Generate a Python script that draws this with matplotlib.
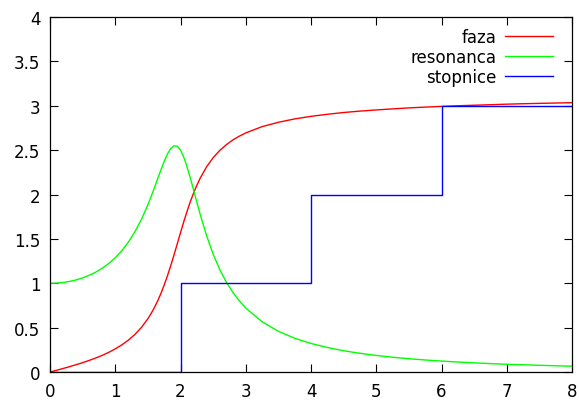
import matplotlib
matplotlib.use("Agg")
import matplotlib.pyplot as plt

# x positions
x_fine = [0.0, 0.1, 0.2, 0.3, 0.4, 0.5, 0.6, 0.7, 0.8, 0.9,
          1.0, 1.1, 1.2, 1.3, 1.4, 1.5, 1.55, 1.6, 1.65, 1.7, 1.75, 1.8, 1.85, 1.9, 1.95,
          2.0, 2.05, 2.1, 2.15, 2.2, 2.25, 2.3, 2.4, 2.5, 2.6, 2.7, 2.8, 2.9,
          3.0, 3.25, 3.5, 3.75, 4.0, 4.25, 4.5, 4.75, 5.0, 5.25,
          5.5, 5.75, 6.0, 6.25, 6.5, 6.75, 7.0, 7.25, 7.5, 7.75, 8.0]

# faza (phase)
faza = [0.0, 0.020, 0.040, 0.061, 0.083, 0.106, 0.131, 0.158, 0.188, 0.222,
        0.261, 0.306, 0.359, 0.423, 0.502, 0.601, 0.660, 0.727, 0.802, 0.886, 0.981, 1.085,
        1.199, 1.319, 1.445,
        1.571, 1.694, 1.810, 1.919, 2.016, 2.104, 2.182, 2.313, 2.415, 2.496, 2.560, 2.614, 2.657,
        2.694, 2.765, 2.814, 2.852, 2.881, 2.904, 2.924, 2.940, 2.953, 2.965,
        2.976, 2.985, 2.993, 3.000, 3.006, 3.012, 3.018, 3.023, 3.027, 3.031, 3.035]

# resonanca (amplitude)
resonanca = [1.000, 1.002, 1.009, 1.021, 1.038, 1.061, 1.090, 1.125, 1.170, 1.223,
             1.288, 1.367, 1.463, 1.579, 1.719, 1.885, 1.978, 2.076, 2.178, 2.279, 2.374,
             2.457, 2.518, 2.549, 2.544,
             2.500, 2.421, 2.313, 2.187, 2.051, 1.914, 1.780, 1.536, 1.329, 1.157, 1.016, 0.900, 0.803,
             0.721, 0.567, 0.459, 0.381, 0.322, 0.277, 0.240, 0.211, 0.187, 0.167,
             0.150, 0.136, 0.124, 0.113, 0.104, 0.095, 0.088, 0.082, 0.076, 0.071, 0.066]

# stopnice (steps)
x_steps = [0, 2, 4, 6, 8]
stopnice = [0, 1, 2, 3, 3]

plt.rcParams['font.family'] = ['DejaVu Sans']
plt.rcParams['font.size'] = 12

fig = plt.figure(figsize=(5.79, 4.02), dpi=100)
ax = fig.add_axes([0.0864, 0.072, 0.9015, 0.8832])

ax.plot(x_fine, faza, color='#ff0000', lw=1.0, label='faza')
ax.plot(x_fine, resonanca, color='#00ff00', lw=1.0, label='resonanca')
ax.plot(x_steps, stopnice, color='#0000ff', lw=1.0, drawstyle='steps-post',
        label='stopnice')

ax.set_xlim(0, 8)
ax.set_ylim(0, 4)
ax.set_xticks(range(0, 9))
ax.set_yticks([0, 0.5, 1, 1.5, 2, 2.5, 3, 3.5, 4])
ax.set_yticklabels(['0', '0.5', '1', '1.5', '2', '2.5', '3', '3.5', '4'])
ax.tick_params(direction='in', length=6, width=0.8, top=True, right=True,
               labelsize=12, pad=7, color='black')
for s in ax.spines.values():
    s.set_linewidth(0.9)
    s.set_color('black')

ax.legend(loc='upper right', bbox_to_anchor=(0.977, 0.987), borderaxespad=0,
          frameon=False, markerfirst=False,
          handlelength=2.9, handletextpad=0.5, labelspacing=0.1, fontsize=12)

fig.savefig('out.png', dpi=100)
